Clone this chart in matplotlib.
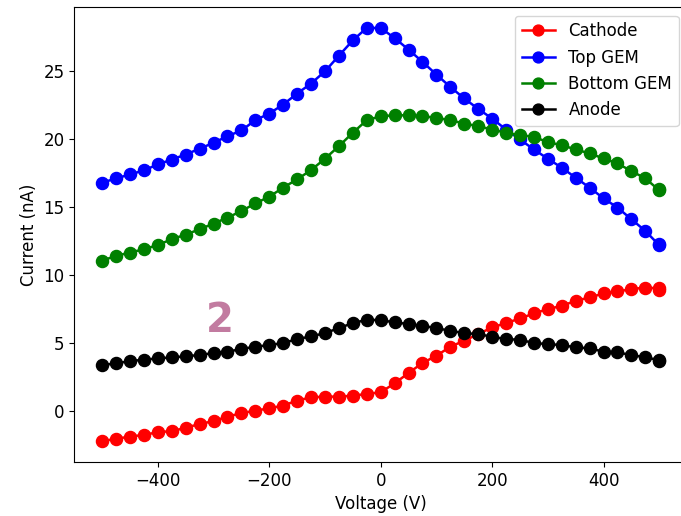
import numpy as np
import matplotlib
matplotlib.use('Agg')
import matplotlib.pyplot as plt

# Voltage sweep, 25 V steps (last point repeated)
voltage = list(range(-500, 501, 25)) + [500]

cathode = [-2.25, -2.08, -1.91, -1.79, -1.59, -1.51, -1.27, -0.98, -0.78, -0.44,
           -0.19, 0.0, 0.17, 0.37, 0.74, 0.98, 1.03, 1.03, 1.1, 1.23,
           1.35, 2.01, 2.77, 3.51, 4.04, 4.71, 5.15, 5.64, 6.13, 6.45,
           6.79, 7.16, 7.48, 7.72, 8.09, 8.34, 8.63, 8.78, 8.95, 9.07,
           9.0, 8.92]
top_gem = [16.79, 17.11, 17.4, 17.7, 18.14, 18.5, 18.87, 19.3, 19.73, 20.22,
           20.64, 21.4, 21.89, 22.55, 23.36, 24.1, 25.0, 26.15, 27.28, 28.2,
           28.19, 27.45, 26.6, 25.7, 24.76, 23.85, 23.0, 22.23, 21.52, 20.71,
           19.98, 19.24, 18.56, 17.9, 17.16, 16.43, 15.64, 14.96, 14.1, 13.24,
           12.18, 12.3]
bottom_gem = [11.05, 11.4, 11.65, 11.89, 12.2, 12.63, 12.97, 13.36, 13.78, 14.22,
              14.7, 15.27, 15.76, 16.43, 17.04, 17.72, 18.56, 19.49, 20.47, 21.4,
              21.69, 21.76, 21.76, 21.7, 21.57, 21.4, 21.15, 20.96, 20.71, 20.47,
              20.3, 20.17, 19.78, 19.56, 19.24, 18.95, 18.58, 18.21, 17.65, 17.11,
              16.23, 16.3]
anode = [3.36, 3.48, 3.65, 3.75, 3.85, 3.92, 4.0, 4.1, 4.24, 4.34,
         4.54, 4.71, 4.83, 4.98, 5.27, 5.47, 5.71, 6.08, 6.45, 6.69,
         6.67, 6.5, 6.38, 6.25, 6.08, 5.88, 5.71, 5.64, 5.44, 5.27,
         5.22, 4.98, 4.9, 4.83, 4.66, 4.59, 4.34, 4.29, 4.1, 3.92,
         3.73, 3.66]

plt.rcParams['font.size'] = 12

fig = plt.figure(figsize=(6.81, 5.16), dpi=100)
# right spine sits just past the image edge in the reference
ax = fig.add_axes([0.109, 0.105, 0.9, 0.881])

ms, lw = 8.7, 1.8
ax.plot(voltage, cathode, 'o-', color='red', markersize=ms, linewidth=lw, label='Cathode')
ax.plot(voltage, top_gem, 'o-', color='blue', markersize=ms, linewidth=lw, label='Top GEM')
ax.plot(voltage, bottom_gem, 'o-', color='green', markersize=ms, linewidth=lw, label='Bottom GEM')
ax.plot(voltage, anode, 'o-', color='black', markersize=ms, linewidth=lw, label='Anode')

ax.set_xlabel('Voltage (V)')
ax.set_ylabel('Current (nA)')
ax.legend(loc='upper right', markerscale=0.9)

# panel number overlay
fig.text(0.323, 0.378, '2', color='#c27ba0', fontsize=29, fontweight='bold',
         ha='center', va='center')

fig.savefig('out.png', dpi=100)
